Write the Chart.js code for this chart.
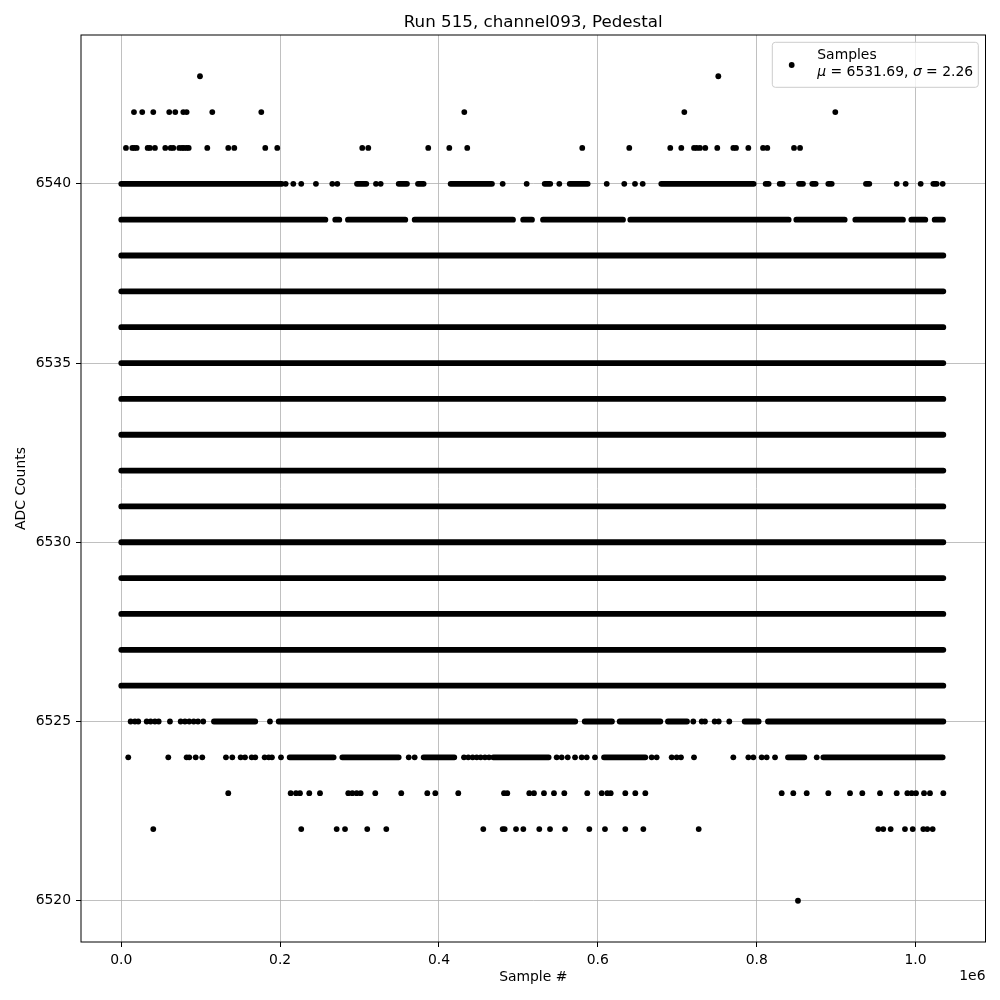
<!DOCTYPE html>
<html>
<head>
<meta charset="utf-8">
<title>Run 515, channel093, Pedestal</title>
<script src="https://cdn.jsdelivr.net/npm/chart.js@4.4.1/dist/chart.umd.min.js"></script>
<style>
    html, body { margin: 0; padding: 0; background: #fff; }
    canvas { display: block; }
</style>
</head>
<body>
<canvas id="pedestalChart" width="1000" height="1000"></canvas>
<script>
    const chartTitle = 'Run 515, channel093, Pedestal';
    const xAxisLabel = 'Sample #';
    const yAxisLabel = 'ADC Counts';
    const legendLabel = 'Samples';
    const meanValue = 6531.69;
    const sigmaValue = 2.26;

    const xTickValues = [0, 200000, 400000, 600000, 800000, 1000000];
    const yTickValues = [6520, 6525, 6530, 6535, 6540];

    // levels where the samples are packed over the whole run
    const denseLevels = [6526, 6527, 6528, 6529, 6530, 6531, 6532, 6533, 6534, 6535, 6536, 6537, 6538];
    const sampleFirst = 0;
    const sampleLast = 1035000;

    // packed stretches [from, to] on the edge levels
    const runs6540 = [[0, 202000], [296800, 308500], [349300, 359700], [373600, 380700], [414700, 466700],
        [533100, 540100], [564600, 587200], [679900, 796200], [811300, 815100], [829000, 832800],
        [853300, 858300], [870000, 874300], [890200, 894500], [937600, 941800], [1022400, 1026700]];
    const runs6539 = [[0, 257000], [269400, 274500], [285400, 357600], [369400, 493200], [506000, 517100],
        [531000, 631700], [640900, 840300], [849900, 910800], [924200, 984200], [994700, 1012300],
        [1024100, 1034600]];
    const runs6525 = [[116700, 168700], [198200, 571600], [583500, 617800], [627500, 678700], [688300, 712300],
        [784900, 802500], [814200, 1035000]];
    const runs6524 = [[212000, 267400], [278300, 349300], [380700, 419300], [468400, 538100], [607800, 659800],
        [839400, 860000], [883900, 1034200]];

    // single samples
    const dots6543 = [99100, 751700];
    const dots6542 = [16000, 26400, 40300, 60400, 68000, 78100, 82300, 114600, 176300, 431900, 708900, 899000];
    const dots6541 = [5900, 13900, 16400, 19400, 33200, 36100, 42400, 55400, 62200, 65500, 73000, 76400, 78900,
        82300, 84900, 108300, 134700, 142300, 181300, 196400, 303400, 311000, 386500, 413000, 435600, 580400,
        639600, 691200, 705100, 721100, 724500, 728600, 735300, 750400, 770600, 774000, 789500, 808000, 813400,
        847000, 854600];
    const dots6540 = [207000, 216600, 226600, 245100, 265700, 272000, 320700, 326600, 480200, 510400, 551500,
        611200, 633300, 646800, 656500, 976300, 987600, 1006500, 1034200];
    const dots6525 = [11800, 17200, 21400, 32000, 37000, 42400, 47100, 61300, 74800, 80200, 85600, 91200, 96600,
        103200, 187200, 720200, 730800, 734900, 747100, 752200, 765500];
    const dots6524 = [8800, 59200, 82300, 85600, 93700, 102000, 131800, 139800, 150300, 155800, 164200, 168700,
        180500, 185600, 189700, 201100, 361900, 369400, 431500, 436900, 442400, 447500, 452500, 457900, 463000,
        548200, 554500, 562100, 571300, 579700, 586000, 596400, 667800, 674100, 693000, 699300, 704700, 721100,
        770600, 789500, 795800, 806300, 812600, 823100, 875600];
    const dots6523 = [134700, 213300, 220000, 225000, 236700, 250200, 285800, 290900, 296400, 301400, 319800,
        352500, 385300, 395400, 424300, 481900, 486000, 513700, 519600, 532200, 544800, 557800, 586700, 604900,
        611900, 616200, 634600, 647200, 659800, 831500, 846100, 863000, 890200, 917500, 933000, 955300, 976300,
        989700, 995200, 1000600, 1010700, 1018200, 1035000];
    const dots6522 = [40300, 226600, 271200, 281700, 309700, 333700, 455800, 480200, 482700, 497000, 506200,
        526300, 539800, 558700, 589300, 609000, 634600, 657300, 727000, 953100, 959400, 968700, 986700, 996500,
        1009800, 1014800, 1021600];
    const dots6520 = [852000];

    const FONT = '"DejaVu Sans", "Liberation Sans", sans-serif';
    const DOT_R = 2.9;

    const runLine = [];
    function addRuns(level, runs) {
        runs.forEach(function (r) {
            runLine.push({ x: r[0], y: level }, { x: r[1], y: level }, { x: r[1], y: null });
        });
    }
    denseLevels.forEach(function (lvl) { addRuns(lvl, [[sampleFirst, sampleLast]]); });
    addRuns(6540, runs6540);
    addRuns(6539, runs6539);
    addRuns(6525, runs6525);
    addRuns(6524, runs6524);

    const dotPoints = [];
    function addDots(level, xs) {
        xs.forEach(function (x) { dotPoints.push({ x: x, y: level }); });
    }
    addDots(6543, dots6543);
    addDots(6542, dots6542);
    addDots(6541, dots6541);
    addDots(6540, dots6540);
    addDots(6525, dots6525);
    addDots(6524, dots6524);
    addDots(6523, dots6523);
    addDots(6522, dots6522);
    addDots(6520, dots6520);

    // frame, title, offset text and the legend box
    const decorPlugin = {
        id: 'decor',
        afterDraw: function (chart) {
            const ctx = chart.ctx;
            const a = chart.chartArea;
            ctx.save();
            ctx.strokeStyle = '#000';
            ctx.lineWidth = 1;
            ctx.strokeRect(a.left, a.top, a.right - a.left, a.bottom - a.top);

            ctx.fillStyle = '#000';
            ctx.font = '16.7px ' + FONT;
            ctx.textAlign = 'center';
            ctx.textBaseline = 'alphabetic';
            ctx.fillText(chartTitle, (a.left + a.right) / 2, a.top - 8.3);

            ctx.font = '13.9px ' + FONT;
            ctx.textAlign = 'right';
            ctx.textBaseline = 'top';
            ctx.fillText('1e6', a.right, a.bottom + 27);

            // legend
            const bx = a.right - 213.2, by = a.top + 7.3, bw = 206, bh = 45, rr = 3;
            ctx.beginPath();
            ctx.moveTo(bx + rr, by);
            ctx.arcTo(bx + bw, by, bx + bw, by + bh, rr);
            ctx.arcTo(bx + bw, by + bh, bx, by + bh, rr);
            ctx.arcTo(bx, by + bh, bx, by, rr);
            ctx.arcTo(bx, by, bx + bw, by, rr);
            ctx.closePath();
            ctx.fillStyle = 'rgba(255,255,255,0.8)';
            ctx.fill();
            ctx.strokeStyle = '#cccccc';
            ctx.lineWidth = 1;
            ctx.stroke();

            ctx.fillStyle = '#000';
            ctx.beginPath();
            ctx.arc(bx + 19.4, by + 22.7, DOT_R, 0, Math.PI * 2);
            ctx.fill();

            ctx.textAlign = 'left';
            ctx.textBaseline = 'alphabetic';
            let tx = bx + 45;
            ctx.font = '13.9px ' + FONT;
            ctx.fillText(legendLabel, tx, by + 17);
            const parts = [
                ['\u03bc', true], [' = ' + meanValue.toFixed(2) + ', ', false],
                ['\u03c3', true], [' = ' + sigmaValue.toFixed(2), false]
            ];
            parts.forEach(function (p) {
                ctx.font = (p[1] ? 'italic ' : '') + '13.9px ' + FONT;
                ctx.fillText(p[0], tx, by + 33.7);
                tx += ctx.measureText(p[0]).width;
            });
            ctx.restore();
        }
    };

    const ctxEl = document.getElementById('pedestalChart');
    new Chart(ctxEl, {
        type: 'scatter',
        data: {
            datasets: [{
                label: 'runs',
                data: runLine,
                showLine: true,
                spanGaps: false,
                borderColor: '#000',
                borderWidth: DOT_R * 2,
                borderCapStyle: 'round',
                borderJoinStyle: 'round',
                pointRadius: 0,
                pointHoverRadius: 0
            }, {
                label: legendLabel,
                data: dotPoints,
                showLine: false,
                backgroundColor: '#000',
                borderWidth: 0,
                pointRadius: DOT_R,
                pointHoverRadius: DOT_R
            }]
        },
        options: {
            responsive: false,
            devicePixelRatio: 1,
            animation: false,
            events: [],
            layout: { padding: { left: 0, right: 14.5, top: 35, bottom: 0 } },
            plugins: {
                legend: { display: false },
                title: { display: false },
                tooltip: { enabled: false }
            },
            scales: {
                x: {
                    type: 'linear',
                    min: -50700,
                    max: 1088100,
                    afterFit: function (scale) { scale.height = 58; },
                    afterBuildTicks: function (scale) {
                        scale.ticks = xTickValues.map(function (v) { return { value: v }; });
                    },
                    ticks: {
                        autoSkip: false,
                        maxRotation: 0,
                        padding: 5,
                        color: '#000',
                        font: { family: FONT, size: 13.9 },
                        callback: function (v) { return (v / 1e6).toFixed(1); }
                    },
                    grid: { color: '#b0b0b0', lineWidth: 0.8, tickColor: '#000', tickLength: 5, tickWidth: 1 },
                    border: { display: false },
                    title: {
                        display: true,
                        text: xAxisLabel,
                        color: '#000',
                        font: { family: FONT, size: 13.9 },
                        padding: { top: 0, bottom: 14.7 }
                    }
                },
                y: {
                    type: 'linear',
                    min: 6518.85,
                    max: 6544.15,
                    afterFit: function (scale) { scale.width = 81; },
                    afterBuildTicks: function (scale) {
                        scale.ticks = yTickValues.map(function (v) { return { value: v }; });
                    },
                    ticks: {
                        autoSkip: false,
                        padding: 5,
                        color: '#000',
                        font: { family: FONT, size: 13.9 },
                        callback: function (v) { return String(v); }
                    },
                    grid: { color: '#b0b0b0', lineWidth: 0.8, tickColor: '#000', tickLength: 5, tickWidth: 1 },
                    border: { display: false },
                    title: {
                        display: true,
                        text: yAxisLabel,
                        color: '#000',
                        font: { family: FONT, size: 13.9 },
                        padding: { top: 12.7, bottom: 0 }
                    }
                }
            }
        },
        plugins: [decorPlugin]
    });
</script>
</body>
</html>
